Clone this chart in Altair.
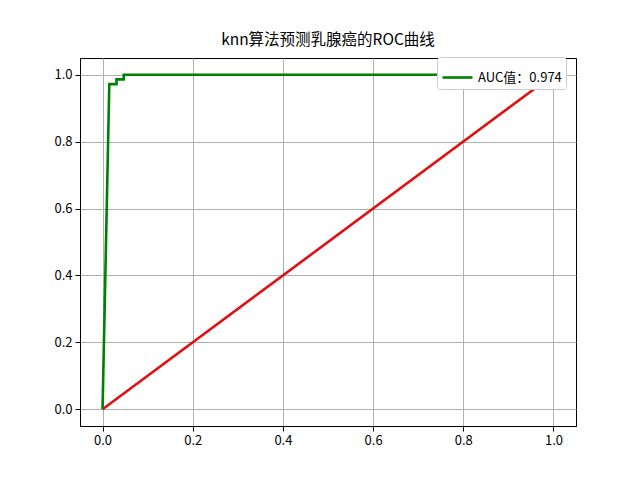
import altair as alt
import pandas as pd

# ROC points
fpr = [0.0, 0.015, 0.031, 0.031, 0.047, 0.047, 1.0]
tpr = [0.0, 0.972, 0.972, 0.986, 0.986, 1.0, 1.0]
diag = [0.0, 1.0]
auc_label = "AUC值：0.974"
ticks = [0.0, 0.2, 0.4, 0.6, 0.8, 1.0]

font = "Noto Sans CJK SC"

roc = pd.DataFrame({"fpr": fpr, "tpr": tpr, "order": range(len(fpr)), "name": auc_label})
base_line = pd.DataFrame({"fpr": diag, "tpr": diag})

x_enc = alt.X(
    "fpr:Q",
    title=None,
    scale=alt.Scale(domain=[-0.05, 1.05], nice=False, zero=False),
    axis=alt.Axis(values=ticks, format=".1f"),
)
y_enc = alt.Y(
    "tpr:Q",
    title=None,
    scale=alt.Scale(domain=[-0.05, 1.05], nice=False, zero=False),
    axis=alt.Axis(values=ticks, format=".1f"),
)

red = alt.Chart(base_line).mark_line(color="#e01010", strokeWidth=2.6).encode(
    x=x_enc, y=y_enc
)

green = alt.Chart(roc).mark_line(strokeWidth=2.6).encode(
    x=x_enc,
    y=y_enc,
    order="order:Q",
    color=alt.Color(
        "name:N",
        title=None,
        scale=alt.Scale(range=["#008000"]),
        legend=alt.Legend(
            orient="none",
            legendX=357,
            legendY=-1,
            symbolType="stroke",
            symbolSize=900,
            symbolStrokeWidth=2.6,
            labelFont=font,
            labelFontSize=13,
            labelColor="black",
            fillColor="white",
            strokeColor="#cccccc",
            cornerRadius=3,
            padding=4,
        ),
    ),
)

chart = alt.layer(red, green).properties(
    width=496,
    height=368,
    title=alt.Title("knn算法预测乳腺癌的ROC曲线", font=font, fontSize=15.5, fontWeight="normal", color="black", offset=8),
    autosize=alt.AutoSizeParams(type="none"),
    padding={"left": 72, "top": 50, "right": 56, "bottom": 46},
).configure_axis(
    grid=True,
    gridColor="#b0b0b0",
    gridWidth=1,
    domainColor="black",
    tickColor="black",
    tickSize=5,
    labelFont=font,
    labelFontSize=13,
    labelColor="black",
    labelPadding=3,
).configure_view(
    stroke="black",
    strokeWidth=1,
)

chart.save("out.html", embed_options={"renderer": "svg", "actions": False})
